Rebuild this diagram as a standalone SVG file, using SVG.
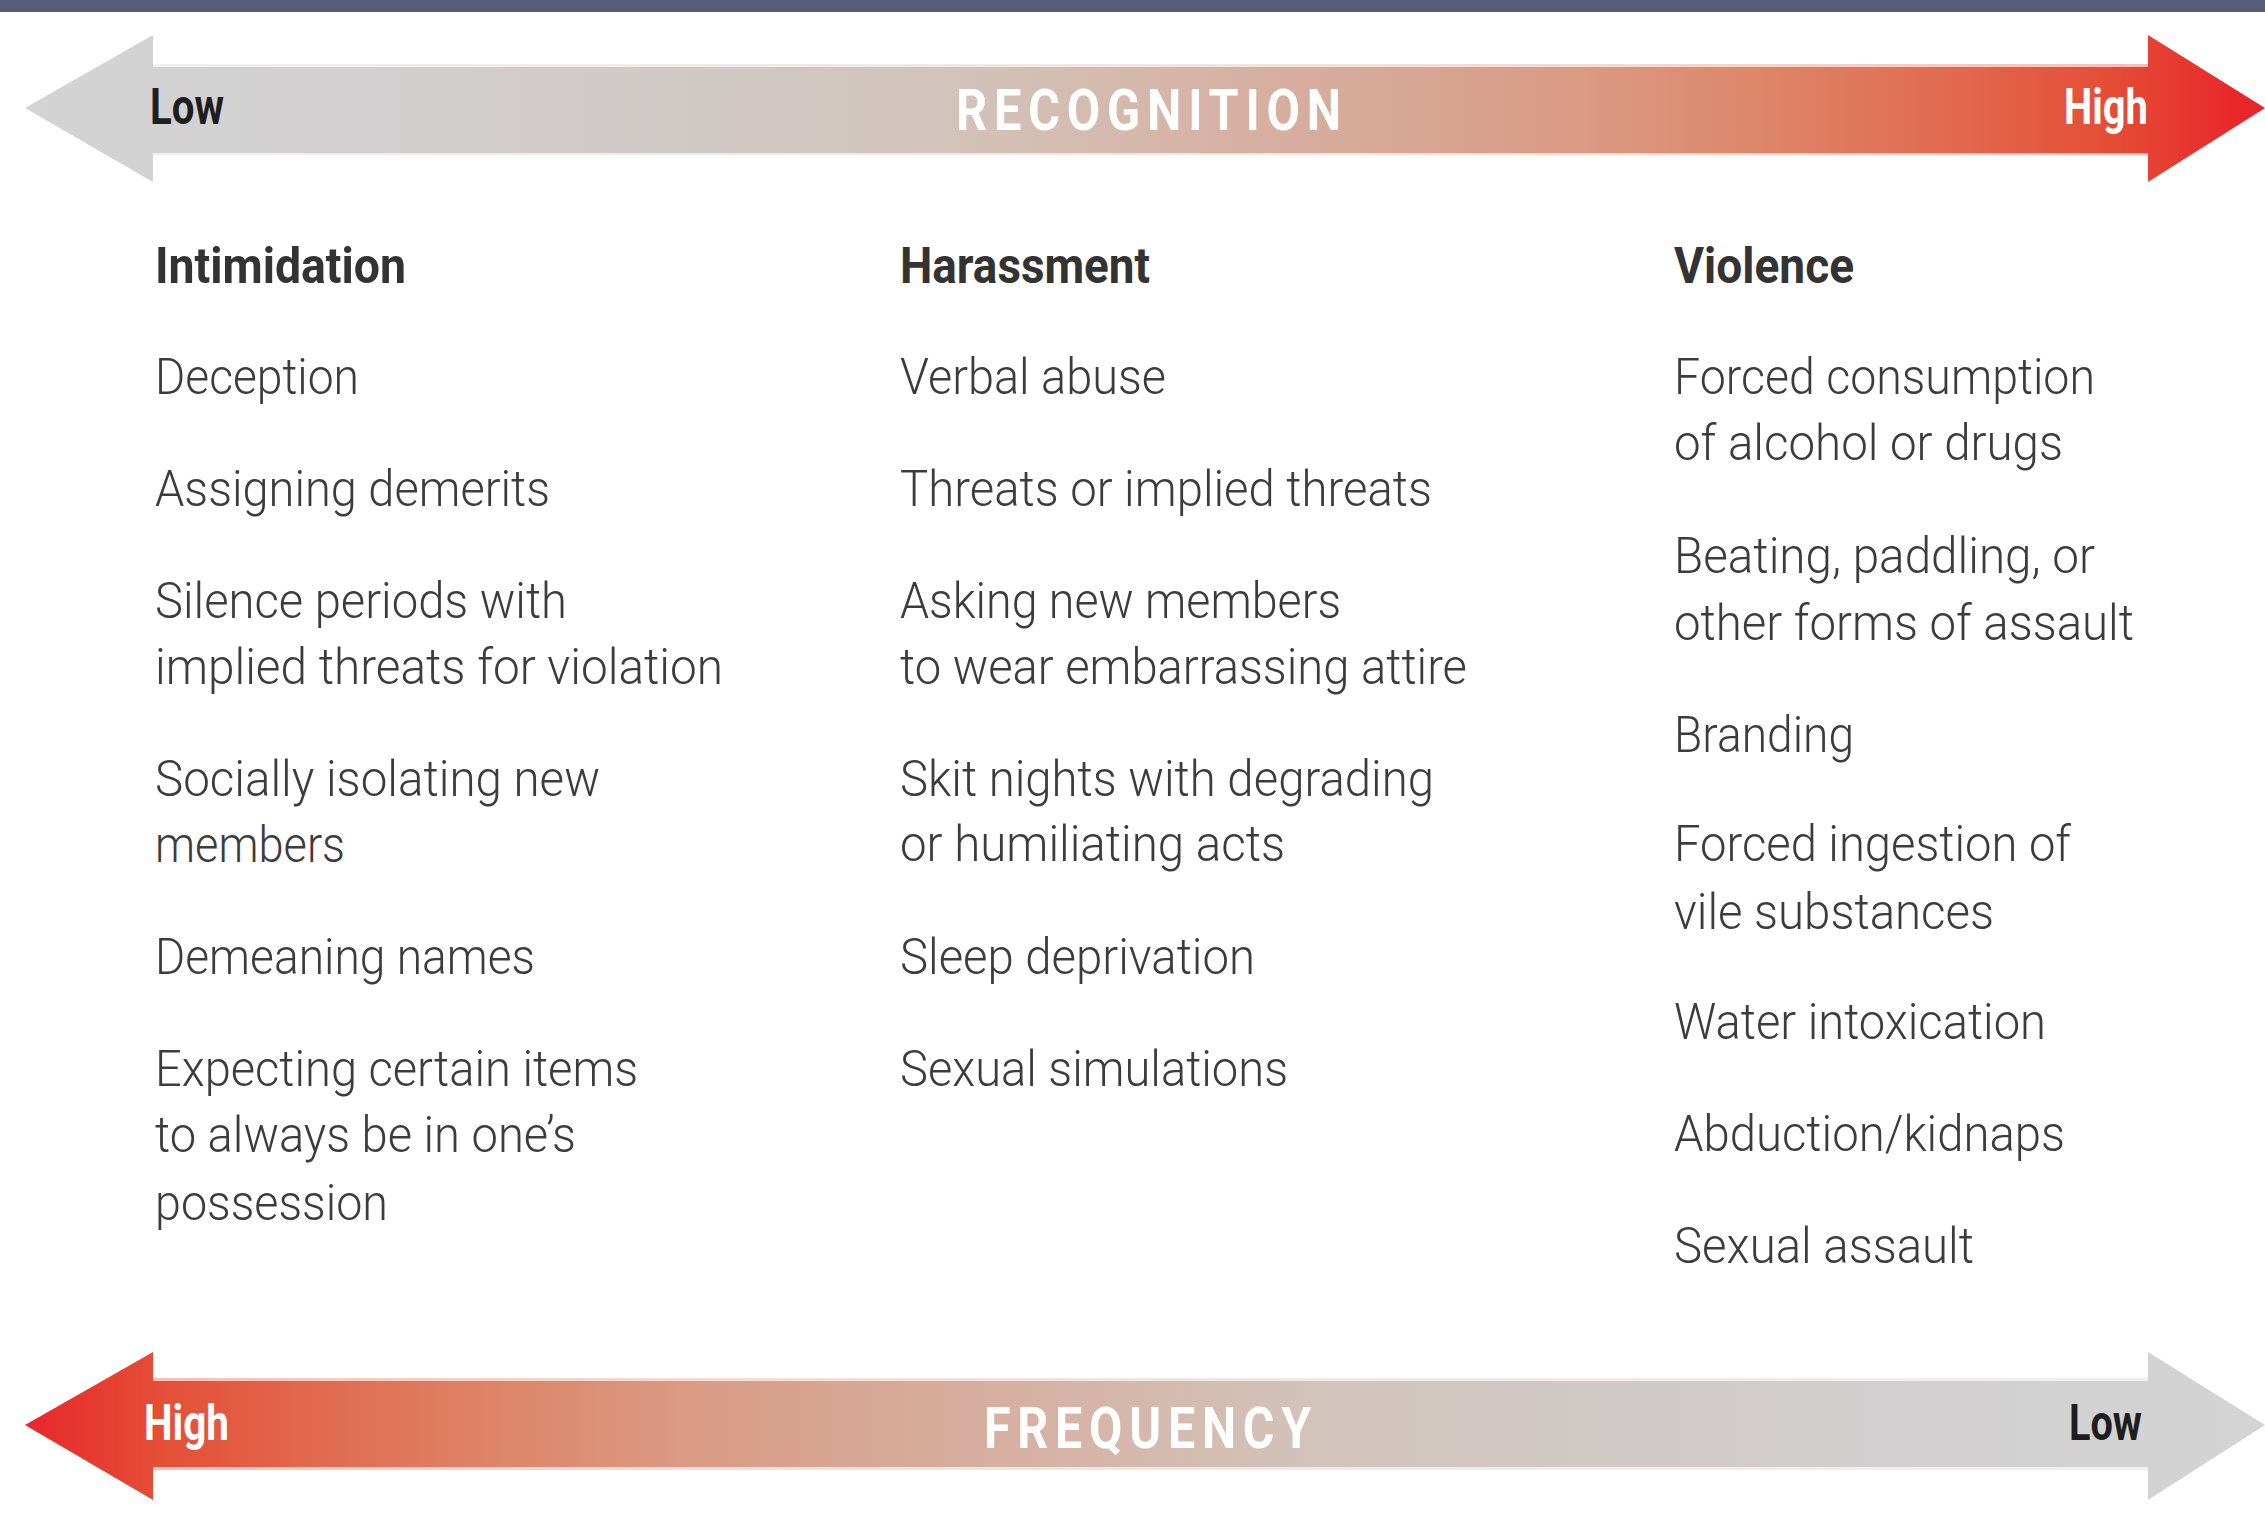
<svg xmlns="http://www.w3.org/2000/svg" width="2265" height="1514" viewBox="0 0 2265 1514">
<defs>
<linearGradient id="gradR" gradientUnits="userSpaceOnUse" x1="0" y1="0" x2="2265" y2="0">
<stop offset="0" stop-color="#d4d4d4"/>
<stop offset="0.15" stop-color="#d2d0d1"/>
<stop offset="0.3" stop-color="#d0c9c6"/>
<stop offset="0.42" stop-color="#d2c3bb"/>
<stop offset="0.52" stop-color="#d6b5a8"/>
<stop offset="0.62" stop-color="#d7a795"/>
<stop offset="0.70" stop-color="#da9a83"/>
<stop offset="0.78" stop-color="#dd8568"/>
<stop offset="0.86" stop-color="#e16a50"/>
<stop offset="0.93" stop-color="#e44e36"/>
<stop offset="1" stop-color="#e9202a"/>
</linearGradient>
<linearGradient id="gradL" gradientUnits="userSpaceOnUse" x1="2265" y1="0" x2="0" y2="0">
<stop offset="0" stop-color="#d4d4d4"/>
<stop offset="0.15" stop-color="#d2d0d1"/>
<stop offset="0.3" stop-color="#d0c9c6"/>
<stop offset="0.42" stop-color="#d2c3bb"/>
<stop offset="0.52" stop-color="#d6b5a8"/>
<stop offset="0.62" stop-color="#d7a795"/>
<stop offset="0.70" stop-color="#da9a83"/>
<stop offset="0.78" stop-color="#dd8568"/>
<stop offset="0.86" stop-color="#e16a50"/>
<stop offset="0.93" stop-color="#e44e36"/>
<stop offset="1" stop-color="#e9202a"/>
</linearGradient>
</defs>
<style>
text { font-family: Roboto, "Liberation Sans", sans-serif; }
.head { font-size: 50px; font-weight: bold; fill: #333333; }
.item { font-size: 50px; font-weight: 300; fill: #3c3c3c; }
.axis { font-size: 57px; font-weight: bold; fill: #ffffff; }
.lo { font-size: 50px; font-weight: bold; fill: #1e1e1e; }
.hi { font-size: 50px; font-weight: bold; fill: #ffffff; }
</style>
<rect x="0" y="0" width="2265" height="12" fill="#565d7a"/>
<g id="connectors">
<g id="recognition-arrow">
<rect x="150" y="64" width="2000" height="91" fill="url(#gradR)" opacity="0.35"/>
<rect x="150" y="67" width="2000" height="86" fill="url(#gradR)"/>
<polygon points="25,108 153,35 153,182" fill="url(#gradR)"/>
<polygon points="2148,35 2265,108 2148,182" fill="url(#gradR)"/>
<text class="lo" x="150" y="124" textLength="74" lengthAdjust="spacingAndGlyphs">Low</text>
<text class="axis" x="956" y="130" textLength="392" lengthAdjust="spacingAndGlyphs" letter-spacing="8">RECOGNITION</text>
<text class="hi" x="2064" y="124" textLength="84" lengthAdjust="spacingAndGlyphs">High</text>
</g>
<g id="frequency-arrow">
<rect x="150" y="1378" width="2000" height="92" fill="url(#gradL)" opacity="0.35"/>
<rect x="150" y="1381" width="2000" height="86" fill="url(#gradL)"/>
<polygon points="25,1425 153,1352 153,1500" fill="url(#gradL)"/>
<polygon points="2148,1352 2265,1425 2148,1500" fill="url(#gradL)"/>
<text class="hi" x="144" y="1440" textLength="85" lengthAdjust="spacingAndGlyphs">High</text>
<text class="axis" x="984" y="1448" textLength="334" lengthAdjust="spacingAndGlyphs" letter-spacing="8">FREQUENCY</text>
<text class="lo" x="2069" y="1440" textLength="73" lengthAdjust="spacingAndGlyphs">Low</text>
</g>
</g>
<g id="col-intimidation">
<text class="head" x="155" y="283" textLength="251" lengthAdjust="spacingAndGlyphs">Intimidation</text>
<g id="i1"><text class="item" x="155" y="394" textLength="204" lengthAdjust="spacingAndGlyphs">Deception</text></g>
<g id="i2"><text class="item" x="155" y="506" textLength="395" lengthAdjust="spacingAndGlyphs">Assigning demerits</text></g>
<g id="i3"><text class="item" x="155" y="618" textLength="412" lengthAdjust="spacingAndGlyphs">Silence periods with</text>
<text class="item" x="155" y="684" textLength="568" lengthAdjust="spacingAndGlyphs">implied threats for violation</text></g>
<g id="i4"><text class="item" x="155" y="796" textLength="445" lengthAdjust="spacingAndGlyphs">Socially isolating new</text>
<text class="item" x="155" y="862" textLength="190" lengthAdjust="spacingAndGlyphs">members</text></g>
<g id="i5"><text class="item" x="155" y="974" textLength="380" lengthAdjust="spacingAndGlyphs">Demeaning names</text></g>
<g id="i6"><text class="item" x="155" y="1086" textLength="483" lengthAdjust="spacingAndGlyphs">Expecting certain items</text>
<text class="item" x="155" y="1152" textLength="421" lengthAdjust="spacingAndGlyphs">to always be in one’s</text>
<text class="item" x="155" y="1220" textLength="233" lengthAdjust="spacingAndGlyphs">possession</text></g>
</g>
<g id="col-harassment">
<text class="head" x="900" y="283" textLength="250" lengthAdjust="spacingAndGlyphs">Harassment</text>
<g id="h1"><text class="item" x="900" y="394" textLength="266" lengthAdjust="spacingAndGlyphs">Verbal abuse</text></g>
<g id="h2"><text class="item" x="900" y="506" textLength="532" lengthAdjust="spacingAndGlyphs">Threats or implied threats</text></g>
<g id="h3"><text class="item" x="900" y="618" textLength="441" lengthAdjust="spacingAndGlyphs">Asking new members</text>
<text class="item" x="900" y="684" textLength="567" lengthAdjust="spacingAndGlyphs">to wear embarrassing attire</text></g>
<g id="h4"><text class="item" x="900" y="796" textLength="534" lengthAdjust="spacingAndGlyphs">Skit nights with degrading</text>
<text class="item" x="900" y="861" textLength="385" lengthAdjust="spacingAndGlyphs">or humiliating acts</text></g>
<g id="h5"><text class="item" x="900" y="974" textLength="355" lengthAdjust="spacingAndGlyphs">Sleep deprivation</text></g>
<g id="h6"><text class="item" x="900" y="1086" textLength="388" lengthAdjust="spacingAndGlyphs">Sexual simulations</text></g>
</g>
<g id="col-violence">
<text class="head" x="1674" y="283" textLength="180" lengthAdjust="spacingAndGlyphs">Violence</text>
<g id="v1"><text class="item" x="1674" y="394" textLength="421" lengthAdjust="spacingAndGlyphs">Forced consumption</text>
<text class="item" x="1674" y="460" textLength="389" lengthAdjust="spacingAndGlyphs">of alcohol or drugs</text></g>
<g id="v2"><text class="item" x="1674" y="573" textLength="421" lengthAdjust="spacingAndGlyphs">Beating, paddling, or</text>
<text class="item" x="1674" y="640" textLength="460" lengthAdjust="spacingAndGlyphs">other forms of assault</text></g>
<g id="v3"><text class="item" x="1674" y="752" textLength="180" lengthAdjust="spacingAndGlyphs">Branding</text></g>
<g id="v4"><text class="item" x="1674" y="861" textLength="397" lengthAdjust="spacingAndGlyphs">Forced ingestion of</text>
<text class="item" x="1674" y="929" textLength="320" lengthAdjust="spacingAndGlyphs">vile substances</text></g>
<g id="v5"><text class="item" x="1674" y="1039" textLength="372" lengthAdjust="spacingAndGlyphs">Water intoxication</text></g>
<g id="v6"><text class="item" x="1674" y="1151" textLength="391" lengthAdjust="spacingAndGlyphs">Abduction/kidnaps</text></g>
<g id="v7"><text class="item" x="1674" y="1263" textLength="300" lengthAdjust="spacingAndGlyphs">Sexual assault</text></g>
</g>
</svg>
